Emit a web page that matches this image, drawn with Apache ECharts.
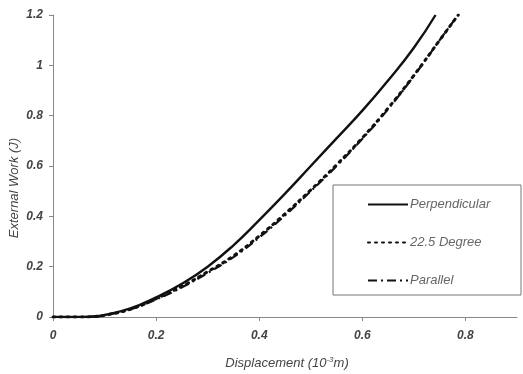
<!DOCTYPE html>
<html><head><meta charset="utf-8">
<script src="https://cdn.jsdelivr.net/npm/echarts@6/dist/echarts.min.js"></script>
<style>html,body{margin:0;padding:0;background:#fff}#c{width:523px;height:374px}</style>
</head><body><div id="c"></div>
<script>
const seriesNames = ['Perpendicular', '22.5 Degree', 'Parallel'];
const perpX = [0, 0.05, 0.08, 0.1, 0.15, 0.2, 0.25, 0.3, 0.35, 0.4, 0.45, 0.5, 0.55, 0.6, 0.65, 0.7, 0.742];
const perpY = [0, 0, 0.002, 0.008, 0.034, 0.078, 0.132, 0.2, 0.285, 0.385, 0.49, 0.6, 0.71, 0.82, 0.94, 1.07, 1.2];
const degX = [0, 0.05, 0.08, 0.1, 0.15, 0.2, 0.25, 0.3, 0.35, 0.4, 0.45, 0.5, 0.55, 0.6, 0.65, 0.7, 0.75, 0.786];
const degY = [0, 0, 0.002, 0.007, 0.031, 0.073, 0.122, 0.18, 0.243, 0.322, 0.41, 0.505, 0.605, 0.712, 0.83, 0.96, 1.1, 1.2];
const parX = [0, 0.05, 0.08, 0.1, 0.15, 0.2, 0.25, 0.3, 0.35, 0.4, 0.45, 0.5, 0.55, 0.6, 0.65, 0.7, 0.75, 0.782];
const parY = [0, 0, 0.002, 0.007, 0.03, 0.07, 0.118, 0.175, 0.238, 0.316, 0.404, 0.5, 0.6, 0.708, 0.826, 0.958, 1.1, 1.19];
const xTicks = [0, 0.2, 0.4, 0.6, 0.8];
const yTicks = [0, 0.2, 0.4, 0.6, 0.8, 1, 1.2];

const zip = (xs, ys) => xs.map((x, i) => [x, ys[i]]);
const font = 'Liberation Sans, Arial, sans-serif';
const chart = echarts.init(document.getElementById('c'), null, {renderer: 'canvas'});
const styles = [
  {type: 'solid', width: 2.4},
  {type: [2, 5], width: 3, cap: 'round'},
  {type: [9, 4, 2, 4], width: 2.2}
];
const datas = [zip(perpX, perpY), zip(degX, degY), zip(parX, parY)];
chart.setOption({
  animation: false,
  grid: {left: 53, right: 6, top: 15, bottom: 57, containLabel: false},
  xAxis: {
    type: 'value', min: 0, max: 0.9, interval: 0.2,
    axisLine: {lineStyle: {color: '#888', width: 1}},
    axisTick: {show: true, length: 4, lineStyle: {color: '#888'}},
    splitLine: {show: false},
    axisLabel: {showMaxLabel: false, margin: 13, fontFamily: font, fontStyle: 'italic', fontWeight: 'bold', fontSize: 12, color: '#444'}
  },
  yAxis: {
    type: 'value', min: 0, max: 1.2, interval: 0.2,
    axisLine: {show: true, lineStyle: {color: '#888', width: 1}},
    axisTick: {show: true, length: 4, lineStyle: {color: '#888'}},
    splitLine: {show: false},
    axisLabel: {margin: 10, fontFamily: font, fontStyle: 'italic', fontWeight: 'bold', fontSize: 12, color: '#444'}
  },
  legend: {
    orient: 'vertical', left: 362, top: 193, itemGap: 25, itemWidth: 40, itemHeight: 12,
    itemStyle: {opacity: 0},
    textStyle: {fontFamily: font, fontStyle: 'italic', fontSize: 13, color: '#666', padding: [0, 0, 0, -3]},
    data: seriesNames
  },
  graphic: [
    {type: 'rect', shape: {x: 333, y: 185, width: 188, height: 110}, style: {fill: 'none', stroke: '#777', lineWidth: 1}, z: 0},
    {type: 'text', x: 14, y: 188, rotation: Math.PI / 2, style: {text: 'External Work (J)', font: 'italic 13px ' + font, fill: '#444', align: 'center', verticalAlign: 'middle'}},
    {type: 'text', x: 287, y: 356, style: {
      text: '{a|Displacement (10}{s|-3}{a|m)}',
      rich: {a: {font: 'italic 13px ' + font, fill: '#444'}, s: {font: 'italic 8px ' + font, fill: '#444', verticalAlign: 'top', padding: [0, 0, 6, 0]}},
      align: 'center', verticalAlign: 'top'}}
  ],
  series: seriesNames.map((n, i) => ({
    name: n, type: 'line', data: datas[i], showSymbol: false, symbol: 'none', smooth: true,
    lineStyle: Object.assign({color: '#111'}, styles[i]),
    itemStyle: {color: '#111'}, z: 3 - i
  }))
});
</script></body></html>
